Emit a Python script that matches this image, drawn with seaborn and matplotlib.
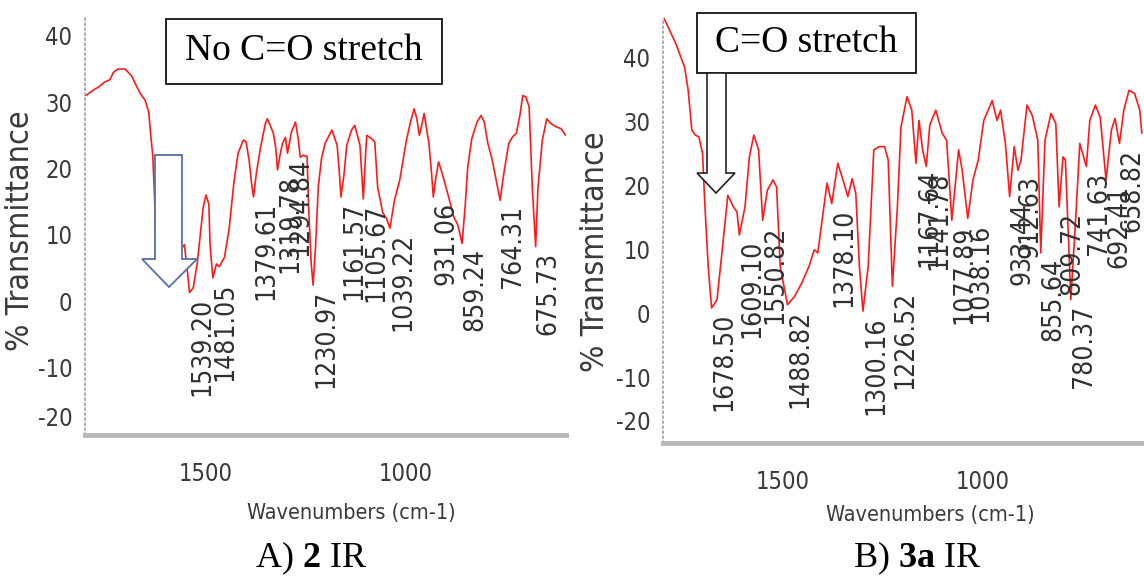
import matplotlib
matplotlib.use("Agg")
import matplotlib.pyplot as plt
import seaborn as sns
import pandas as pd
from matplotlib.patches import Polygon, Rectangle
from matplotlib.ticker import MultipleLocator, FixedLocator
from matplotlib.transforms import ScaledTranslation

# ---------------- data: panel A (compound 2) ----------------
a_wn = [1798, 1780, 1766, 1752, 1738, 1729, 1718, 1700, 1684, 1673, 1662, 1650, 1641, 1636,
        1631, 1626, 1622, 1595, 1565, 1552, 1545, 1539.2, 1530, 1520, 1505, 1498, 1491, 1488,
        1481.05, 1472, 1465, 1452, 1440, 1428, 1418, 1405, 1398, 1390, 1385, 1379.61, 1372,
        1362, 1350, 1345, 1338, 1330, 1324, 1319.78, 1312, 1307, 1300, 1294.84, 1285, 1275,
        1268, 1263, 1255, 1246, 1242, 1236, 1230.97, 1225, 1218, 1210, 1201, 1184, 1171, 1165,
        1161.57, 1154, 1147, 1135, 1127, 1114, 1105.67, 1100, 1097, 1085, 1077, 1070, 1057,
        1048, 1039.22, 1028, 1015, 998, 988, 979, 972, 966, 960, 954, 942, 935, 931.06, 925,
        918, 910, 895, 880, 870, 859.24, 852, 845, 835, 822, 812, 804, 795, 785, 775, 764.31,
        757, 743, 733, 724, 715, 708, 700, 692, 684, 675.73, 670, 659, 648, 638, 625, 612, 601]
a_T = [31.0, 31.8, 32.3, 33.0, 33.4, 34.5, 35.0, 35.0, 34.0, 32.6, 31.3, 30.3, 28.5, 25.0,
       22.0, 15.0, 8.0, 5.5, 7.5, 8.5, 4.7, 1.3, 2.0, 5.7, 14.2, 16.0, 14.6, 8.5,
       3.5, 5.6, 5.2, 6.6, 11.1, 18.2, 22.3, 24.3, 24.0, 21.0, 18.0, 15.7, 19.5,
       23.2, 26.8, 27.5, 26.5, 25.3, 23.0, 19.8, 22.5, 23.8, 24.7, 22.3, 25.5, 27.0,
       24.5, 21.7, 22.0, 21.8, 14.0, 6.0, 2.4, 8.0, 17.2, 21.5, 23.8, 25.8, 23.5, 19.0,
       15.7, 19.0, 23.5, 25.8, 26.5, 23.5, 15.4, 22.0, 25.0, 24.5, 24.0, 17.2, 13.3,
       12.5, 11.0, 15.2, 18.2, 24.3, 27.0, 29.0, 27.5, 25.0, 26.5, 28.3, 23.8, 19.0, 15.7, 18.5,
       21.0, 19.5, 16.2, 12.7, 11.5, 8.7, 14.0, 20.3, 24.5, 27.0, 28.0, 27.0, 23.8, 21.5, 18.5, 15.2,
       18.5, 23.8, 24.8, 25.3, 28.0, 31.0, 30.8, 29.3, 17.0, 8.2, 17.0, 24.3, 27.5, 26.8, 26.3, 26.0, 25.0]
a_peaks = [1539.20, 1481.05, 1379.61, 1319.78, 1294.84, 1230.97, 1161.57, 1105.67,
           1039.22, 931.06, 859.24, 764.31, 675.73]
a_peakT = [1.3, 3.5, 15.7, 19.8, 22.3, 2.4, 15.7, 15.4, 11.0, 15.7, 8.7, 15.2, 8.2]

# ---------------- data: panel B (compound 3a) ----------------
b_wn = [1797, 1768, 1746, 1737, 1728, 1719, 1710, 1701, 1696, 1687, 1678.5, 1665, 1651, 1638,
        1624, 1615, 1609.1, 1595, 1584, 1573, 1561, 1550.82, 1539, 1525, 1516, 1507, 1488.82,
        1471, 1453, 1435, 1422, 1413, 1390, 1378.1, 1363, 1350, 1338, 1327, 1318, 1309,
        1300.16, 1287, 1273, 1260, 1246, 1237, 1226.52, 1214, 1205, 1190, 1178, 1167.64, 1160,
        1151, 1141.78, 1133, 1118, 1102, 1091, 1077.89, 1061, 1052, 1038.16, 1025, 1012, 998,
        977, 965, 956, 944, 933.44, 922, 912.63, 905, 890, 877, 863, 855.64, 845, 830, 818,
        809.72, 800, 794, 780.37, 768, 758, 741.63, 733, 719, 707, 692.41, 679, 670, 658.82,
        648, 635, 621, 608, 603]
b_T = [46.0, 42.1, 38.4, 34.8, 28.6, 27.8, 27.5, 24.9, 17.7, 7.3, 0.8, 2.1, 10.4, 18.4,
       16.6, 15.8, 12.2, 16.6, 24.4, 27.8, 25.5, 14.5, 19.2, 20.8, 19.7, 7.3, 1.3,
       2.6, 4.7, 7.3, 9.9, 9.4, 20.3, 17.1, 23.4, 20.8, 18.2, 21.0, 18.7, 7.3,
       0.3, 7.3, 25.5, 26.0, 26.0, 23.9, 4.2, 16.6, 29.1, 33.8, 31.7, 23.4, 30.1,
       25.5, 22.9, 29.4, 31.7, 28.1, 27.0, 14.5, 25.5, 22.3, 14.8, 20.8, 23.9, 30.1,
       33.2, 30.1, 31.7, 26.5, 18.2, 26.0, 22.3, 23.9, 32.5, 30.9, 27.0, 9.4, 27.0, 31.2, 29.6,
       16.6, 24.4, 23.9, 2.1, 15.1, 26.5, 22.9, 30.1, 32.5, 30.6, 20.8, 28.6, 30.4, 26.5,
       31.7, 34.8, 34.3, 31.7, 28.1]
b_peaks = [1678.50, 1609.10, 1550.82, 1488.82, 1378.10, 1300.16, 1226.52, 1167.64, 1141.78,
           1077.89, 1038.16, 933.44, 912.63, 855.64, 809.72, 780.37, 741.63, 692.41, 658.82]
b_peakT = [0.8, 12.2, 14.5, 1.3, 17.1, 0.3, 4.2, 23.4, 22.9, 14.5, 14.8, 18.2, 22.3, 9.4,
           16.6, 2.1, 22.9, 20.8, 26.5]

x_ticks = [1500, 1000]
y_ticks = [-20, -10, 0, 10, 20, 30, 40]
x_label = "Wavenumbers (cm-1)"
y_label = "% Transmittance"
boxA_text = "No C=O stretch"
boxB_text = "C=O stretch"
capA = r"A) $\mathbf{2}$ IR"
capB = r"B) $\mathbf{3a}$ IR"

# ---------------- style ----------------
sns.set_theme(style="white")
plt.rcParams["font.family"] = ["DejaVu Sans"]
plt.rcParams["font.stretch"] = "condensed"
plt.rcParams["axes.unicode_minus"] = False
plt.rcParams["mathtext.fontset"] = "custom"
plt.rcParams["mathtext.rm"] = "Liberation Serif"
plt.rcParams["mathtext.bf"] = "Liberation Serif:bold"

W, H = 1144, 577
fig = plt.figure(figsize=(W / 100, H / 100), dpi=100)
fig.patch.set_facecolor("white")


def fx(px):
    return px / W


def fy(py):
    return 1 - py / H


axA = fig.add_axes([fx(85), fy(435), fx(566) - fx(85), fy(18) - fy(435)])
axB = fig.add_axes([fx(663), fy(443), fx(1143) - fx(663), fy(18) - fy(443)])

TXT = "#3a3a3a"


def style(ax, ylim, xl, yl):
    ax.set_xlim(1800, 600)
    ax.set_ylim(*ylim)
    ax.set_facecolor("white")
    ax.set_xticks(x_ticks)
    ax.xaxis.set_minor_locator(FixedLocator(list(range(600, 1801, 100))))
    ax.set_yticks(y_ticks)
    ax.yaxis.set_minor_locator(MultipleLocator(2.5))
    for s in ["top", "right"]:
        ax.spines[s].set_visible(False)
    ax.spines["bottom"].set_color("#b8b8b8")
    ax.spines["bottom"].set_linewidth(3.5)
    ax.spines["left"].set_color("#a0a0a0")
    ax.spines["left"].set_linewidth(1.2)
    ax.spines["left"].set_linestyle((0, (1, 2)))
    ax.tick_params(axis="x", which="major", direction="out", length=6.5, width=2,
                   color="#444444", labelsize=17, labelcolor=TXT, pad=13)
    ax.tick_params(axis="x", which="minor", direction="inout", length=4, width=2.5,
                   color="#555555")
    ax.tick_params(axis="y", which="major", direction="out", length=5, width=2,
                   color="#444444", labelsize=17, labelcolor=TXT, pad=4)
    ax.tick_params(axis="y", which="minor", direction="inout", length=2.5, width=2.2,
                   color="#666666")
    ax.set_xlabel(x_label, fontsize=15.5, color=TXT)
    ax.xaxis.set_label_coords(*xl)
    ax.xaxis.label.set_va("center")
    ax.set_ylabel(y_label, fontsize=23, color=TXT)
    ax.yaxis.set_label_coords(*yl)
    ax.yaxis.label.set_va("center")


def draw(ax, wn, T, peaks, peakT):
    df = pd.DataFrame({"wn": wn, "T": T})
    sns.lineplot(data=df, x="wn", y="T", ax=ax, color="#ff1a1a", linewidth=1.2,
                 estimator=None, sort=False)
    for p, t in zip(peaks, peakT):
        ax.annotate(f"{p:.2f}", xy=(p, t), xytext=(13, -5), textcoords="offset pixels",
                    rotation=90, ha="center", va="top", fontsize=19, color="#303030",
                    annotation_clip=False)


draw(axA, a_wn, a_T, a_peaks, a_peakT)
draw(axB, b_wn, b_T, b_peaks, b_peakT)
style(axA, (-20.2, 42.7), (0.553, -0.187), (-0.135, 0.489))
style(axB, (-20.3, 46.1), (0.556, -0.169), (-0.140, 0.449))

# ---------------- annotation boxes and arrows ----------------
def px_poly(pts):
    return [(fx(x), fy(y)) for x, y in pts]


fig.patches.append(Rectangle((fx(166), fy(84)), fx(442) - fx(166), fy(19) - fy(84),
                             transform=fig.transFigure, facecolor="white",
                             edgecolor="#111111", linewidth=1.3, zorder=5))
fig.text(fx(304), fy(51), boxA_text, family="Liberation Serif", stretch="normal",
         fontsize=27, ha="center", va="center", color="black", zorder=6)

fig.patches.append(Rectangle((fx(697), fy(73)), fx(916) - fx(697), fy(13) - fy(73),
                             transform=fig.transFigure, facecolor="white",
                             edgecolor="#111111", linewidth=1.3, zorder=5))
fig.text(fx(806), fy(43), boxB_text, family="Liberation Serif", stretch="normal",
         fontsize=27, ha="center", va="center", color="black", zorder=6)

arrowA = [(155, 155), (182, 155), (182, 259), (197, 259), (169, 287), (142, 259), (155, 259)]
fig.patches.append(Polygon(px_poly(arrowA), closed=True, transform=fig.transFigure,
                           facecolor="white", edgecolor="#5670a6", linewidth=1.3, zorder=5))
arrowB = [(707, 73), (726, 73), (726, 173), (735, 173), (716, 193), (697, 173), (707, 173)]
fig.patches.append(Polygon(px_poly(arrowB), closed=True, transform=fig.transFigure,
                           facecolor="white", edgecolor="#222222", linewidth=1.2, zorder=5))

# ---------------- captions ----------------
fig.text(fx(311), fy(558), capA, family="Liberation Serif", stretch="normal", fontsize=26,
         ha="center", va="center", color="black")
fig.text(fx(917), fy(558), capB, family="Liberation Serif", stretch="normal", fontsize=26,
         ha="center", va="center", color="black")

# the instrument software draws its lowest y label a little above the axis line
fig.canvas.draw()
for ax, shift in ((axA, 17), (axB, 21)):
    for lbl in ax.get_yticklabels():
        if lbl.get_text() == "-20":
            lbl.set_transform(lbl.get_transform() +
                              ScaledTranslation(0, shift / 100, fig.dpi_scale_trans))

fig.savefig("out.png", dpi=100, facecolor="white")
